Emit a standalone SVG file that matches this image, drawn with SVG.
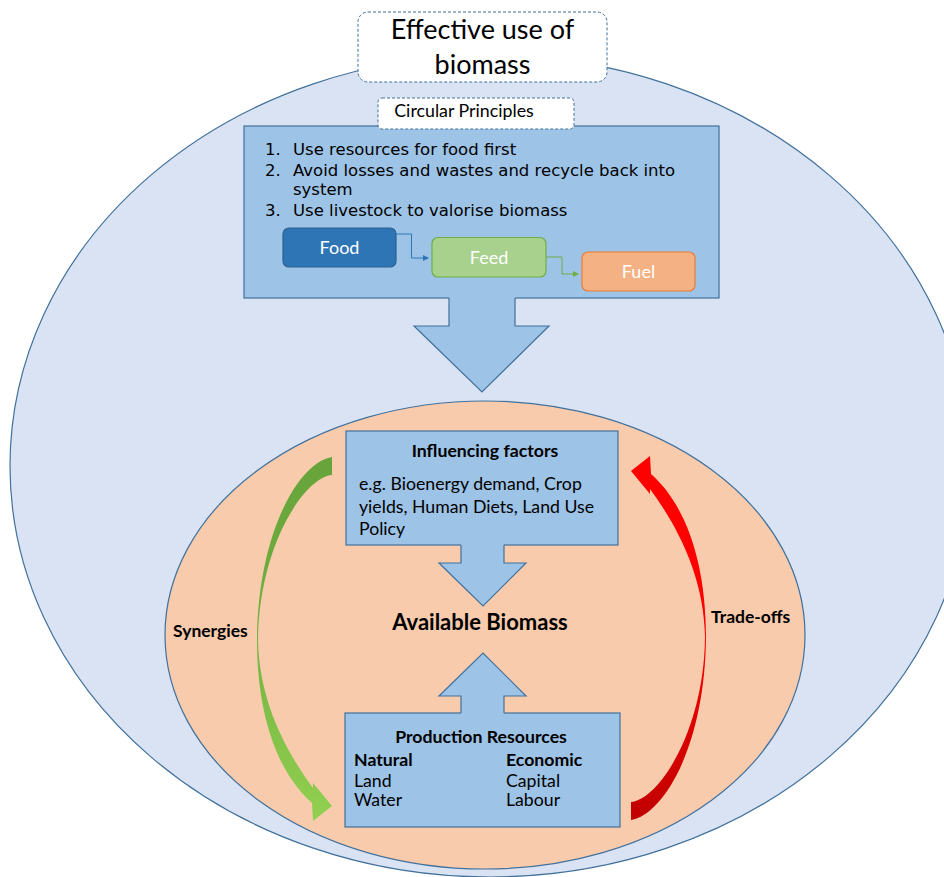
<svg xmlns="http://www.w3.org/2000/svg" width="944" height="877" viewBox="0 0 944 877">
<style>
.outline{stroke:#41719c;stroke-width:1.2}
.blue{fill:#9dc3e6;stroke:#41719c;stroke-width:1.2}
.dash{fill:#fff;stroke:#41719c;stroke-width:1;stroke-dasharray:3 2}
.cal{font-family:Lato,"Open Sans","Liberation Sans",sans-serif;fill:#000}
.ver{font-family:"DejaVu Sans","Liberation Sans",sans-serif;font-size:16.5px;fill:#000}
.b{font-weight:bold}
.w{fill:#fff;font-size:18px}
.t{font-size:17.7px}
</style>
<defs>
<marker id="mBlue" markerWidth="6" markerHeight="6" refX="5" refY="3" orient="auto" markerUnits="userSpaceOnUse"><path d="M0,0 L6,3 L0,6 Z" fill="#2e75b6"/></marker>
<marker id="mGreen" markerWidth="6" markerHeight="6" refX="5" refY="3" orient="auto" markerUnits="userSpaceOnUse"><path d="M0,0 L6,3 L0,6 Z" fill="#70ad47"/></marker>
<linearGradient id="gGreen" x1="0" y1="0" x2="0" y2="1"><stop offset="0" stop-color="#67a33a"/><stop offset="0.45" stop-color="#70b040"/><stop offset="1" stop-color="#92d050"/></linearGradient>
<linearGradient id="gRed" x1="0" y1="0" x2="0" y2="1"><stop offset="0" stop-color="#c00000"/><stop offset="0.55" stop-color="#ff0000"/><stop offset="1" stop-color="#ff0000"/></linearGradient>
<path id="curve" d="M332,457 C300,462 258,530 257,640 C257,720 280,775 312,803 L313,821 L332,806 L313,783 L313,788 C285,750 259,700 258,640 C259,545 305,477 332,475 Z"/>
</defs>
<rect width="944" height="877" fill="#fff"/>
<g id="background">
<ellipse cx="490" cy="466" rx="480" ry="411" fill="#dae3f3" class="outline"/>
<ellipse cx="485" cy="635" rx="320" ry="234" fill="#f8cbad" class="outline"/>
</g>
<g id="title">
<rect x="358" y="12" width="249" height="70" rx="10" class="dash"/>
<text class="cal" font-size="27" x="482.5" y="39" text-anchor="middle">Effective use of</text>
<text class="cal" font-size="27" x="482.5" y="74" text-anchor="middle">biomass</text>
</g>
<g id="principles">
<rect x="244" y="126" width="475" height="172" class="blue"/>
<text class="ver" x="265" y="155">1.</text><text class="ver" x="293" y="155">Use resources for food first</text>
<text class="ver" x="265" y="176">2.</text><text class="ver" x="293" y="176">Avoid losses and wastes and recycle back into</text>
<text class="ver" x="293" y="195">system</text>
<text class="ver" x="265" y="216">3.</text><text class="ver" x="293" y="216">Use livestock to valorise biomass</text>
</g>
<g id="circular-principles">
<rect x="378" y="98" width="196" height="31" rx="4" class="dash"/>
<text class="cal" font-size="17.8" x="464" y="117" text-anchor="middle">Circular Principles</text>
</g>
<g id="food">
<rect x="283" y="228" width="113" height="39" rx="6" fill="#2e75b6" stroke="#2e5f8f" stroke-width="1.2"/>
<text class="cal w" x="339.5" y="254" text-anchor="middle">Food</text>
</g>
<g id="feed">
<rect x="432" y="237.5" width="114" height="39.5" rx="6" fill="#a9d18e" stroke="#70ad47" stroke-width="1.2"/>
<text class="cal w" x="489" y="264" text-anchor="middle">Feed</text>
</g>
<g id="fuel">
<rect x="582" y="252" width="113" height="39" rx="6" fill="#f4b183" stroke="#ed7d31" stroke-width="1.2"/>
<text class="cal w" x="638.5" y="278" text-anchor="middle">Fuel</text>
</g>
<g id="influencing">
<rect x="346" y="431" width="272" height="114" class="blue"/>
<text class="cal b t" x="485" y="457" text-anchor="middle">Influencing factors</text>
<text class="cal t" x="359" y="490">e.g. Bioenergy demand, Crop</text>
<text class="cal t" x="359" y="513">yields, Human Diets, Land Use</text>
<text class="cal t" x="359" y="535">Policy</text>
</g>
<g id="production">
<rect x="345" y="713" width="275" height="114" class="blue"/>
<text class="cal b t" x="481" y="743" text-anchor="middle">Production Resources</text>
<text class="cal b t" x="354" y="766">Natural</text>
<text class="cal t" x="354" y="787">Land</text>
<text class="cal t" x="354" y="806">Water</text>
<text class="cal b t" x="506" y="766">Economic</text>
<text class="cal t" x="506" y="787">Capital</text>
<text class="cal t" x="506" y="806">Labour</text>
</g>
<g id="available">
<text class="cal b" font-size="22" x="480" y="630" text-anchor="middle">Available Biomass</text>
</g>
<g id="synergies-label"><text class="cal b" font-size="17.5" x="173" y="637">Synergies</text></g>
<g id="tradeoffs-label"><text class="cal b" font-size="17.5" x="711" y="623">Trade-offs</text></g>
<g id="connectors">
<path d="M396,234 H411.5 V258 H428" fill="none" stroke="#2e75b6" stroke-width="1" marker-end="url(#mBlue)"/>
<path d="M546,257 H562 V274 H578" fill="none" stroke="#70ad47" stroke-width="1" marker-end="url(#mGreen)"/>
<path d="M449,297 V326 H414 L482,392 L549,326 H515 V297 Z" fill="#9dc3e6" stroke="none"/>
<path d="M449,298 V326 H414 L482,392 L549,326 H515 V298" fill="none" class="outline"/>
<path d="M461,544 V563 H439 L483,606 L526,563 H504 V544 Z" fill="#9dc3e6" stroke="none"/>
<path d="M461,545 V563 H439 L483,606 L526,563 H504 V545" fill="none" class="outline"/>
<path d="M461,714 V696 H439 L483,653 L526,696 H504 V714 Z" fill="#9dc3e6" stroke="none"/>
<path d="M461,713 V696 H439 L483,653 L526,696 H504 V713" fill="none" class="outline"/>
<use href="#curve" fill="url(#gGreen)"/>
<use href="#curve" fill="url(#gRed)" transform="rotate(180 481.5 638.5)"/>
</g>
</svg>
